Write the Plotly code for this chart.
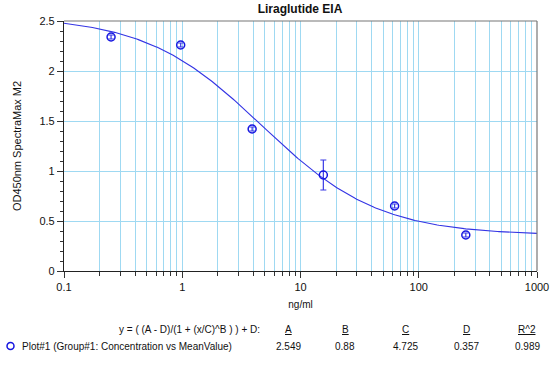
import numpy as np
import plotly.graph_objects as go

# data
conc = [0.25, 0.97, 3.9, 15.6, 62.5, 250]
mean_od = [2.34, 2.26, 1.42, 0.96, 0.65, 0.36]
err = [0.02, 0.02, 0.02, 0.15, 0.02, 0.02]
A, B, C, D, R2 = 2.549, 0.88, 4.725, 0.357, 0.989
param_names = ["A", "B", "C", "D", "R^2"]
param_vals = ["2.549", "0.88", "4.725", "0.357", "0.989"]
xtick_vals = [0.1, 1, 10, 100, 1000]
xtick_text = ["0.1", "1", "10", "100", "1000"]

xs = np.logspace(-1, 3, 300)
ys = (A - D) / (1 + (xs / C) ** B) + D

FONT = "Arial, Liberation Sans, sans-serif"
GRID = "#9fd9f2"

fig = go.Figure()
fig.add_trace(go.Scatter(x=xs, y=ys, mode="lines",
                         line=dict(color="#3434e4", width=1.1), hoverinfo="skip"))
fig.add_trace(go.Scatter(x=conc, y=mean_od, mode="markers",
                         marker=dict(symbol="circle-open", size=8,
                                     color="#1515e0", line=dict(width=1.5, color="#1515e0")),
                         error_y=dict(type="data", array=err, visible=True,
                                      color="#3a3ae6", thickness=1.2, width=3)))

minor_vals = [m * 10 ** e for e in range(-1, 3) for m in range(1, 10)] + [1000]

fig.update_xaxes(type="log", range=[-1, 3], tickmode="array",
                 tickvals=xtick_vals, ticktext=xtick_text,
                 ticks="outside", ticklen=6, tickcolor="#333",
                 showgrid=True, gridcolor=GRID, gridwidth=1,
                 minor=dict(tickmode="array", tickvals=minor_vals, ticks="outside",
                            ticklen=4, tickcolor="#333", showgrid=True,
                            gridcolor=GRID, gridwidth=1),
                 showline=True, linecolor="#222", linewidth=1.2,
                 zeroline=False, automargin=False,
                 title=dict(text="ng/ml", font=dict(size=10, color="#111"), standoff=8),
                 tickfont=dict(size=11, color="#111"))
fig.update_yaxes(range=[0, 2.5], dtick=0.5, tick0=0,
                 ticks="outside", ticklen=6, tickcolor="#333",
                 showgrid=True, gridcolor=GRID, gridwidth=1,
                 minor=dict(dtick=0.1, ticks="outside", ticklen=3, tickcolor="#333",
                            showgrid=False),
                 showline=True, linecolor="#222", linewidth=1.2, zeroline=False,
                 automargin=False,
                 title=dict(text="OD450nm SpectraMax M2", font=dict(size=11, color="#111"),
                            standoff=15),
                 tickfont=dict(size=11, color="#111"))

# border top / right
fig.add_shape(type="line", xref="paper", yref="paper", x0=0, x1=1, y0=1, y1=1,
              line=dict(color="#777", width=1.2))
fig.add_shape(type="line", xref="paper", yref="paper", x0=1, x1=1, y0=0, y1=1,
              line=dict(color="#777", width=1.2))

L, W, T, H = 64, 473, 21, 250

def px(x):
    return (x - L) / W

def py(y):
    return (T + H - y) / H

ann = []
ann.append(dict(text="y = ( (A - D)/(1 + (x/C)^B ) ) + D:", x=px(262), y=py(329),
                xanchor="right", yanchor="middle", showarrow=False,
                font=dict(size=10, color="#111")))
cols = [288, 345, 405, 466, 527]
for cx, n, v in zip(cols, param_names, param_vals):
    ann.append(dict(text="<u>" + n + "</u>", x=px(cx), y=py(329), xanchor="center",
                    yanchor="middle", showarrow=False, font=dict(size=10, color="#111")))
    ann.append(dict(text=v, x=px(cx), y=py(346), xanchor="center",
                    yanchor="middle", showarrow=False, font=dict(size=10, color="#111")))
ann.append(dict(text="Plot#1 (Group#1: Concentration vs MeanValue)", x=px(20), y=py(346),
                xanchor="left", yanchor="middle", showarrow=False,
                font=dict(size=10, color="#111")))
for a in ann:
    a["xref"] = "paper"
    a["yref"] = "paper"

fig.add_shape(type="circle", xref="paper", yref="paper",
              x0=px(7), x1=px(14), y0=py(349.5), y1=py(342.5),
              line=dict(color="#1515e0", width=1.5))

fig.update_layout(
    width=557, height=369,
    margin=dict(l=L, r=557 - L - W, t=T, b=369 - T - H),
    paper_bgcolor="white", plot_bgcolor="white",
    showlegend=False,
    font=dict(family=FONT, color="#111"),
    title=dict(text="<b>Liraglutide EIA</b>", x=px(300), xref="paper",
               xanchor="center", y=1 - 9 / 369, yanchor="middle",
               font=dict(size=12, color="#111")),
    annotations=ann,
)

fig.write_html("out.html", config={"displayModeBar": False},
               post_script="document.body.style.margin='0';")
